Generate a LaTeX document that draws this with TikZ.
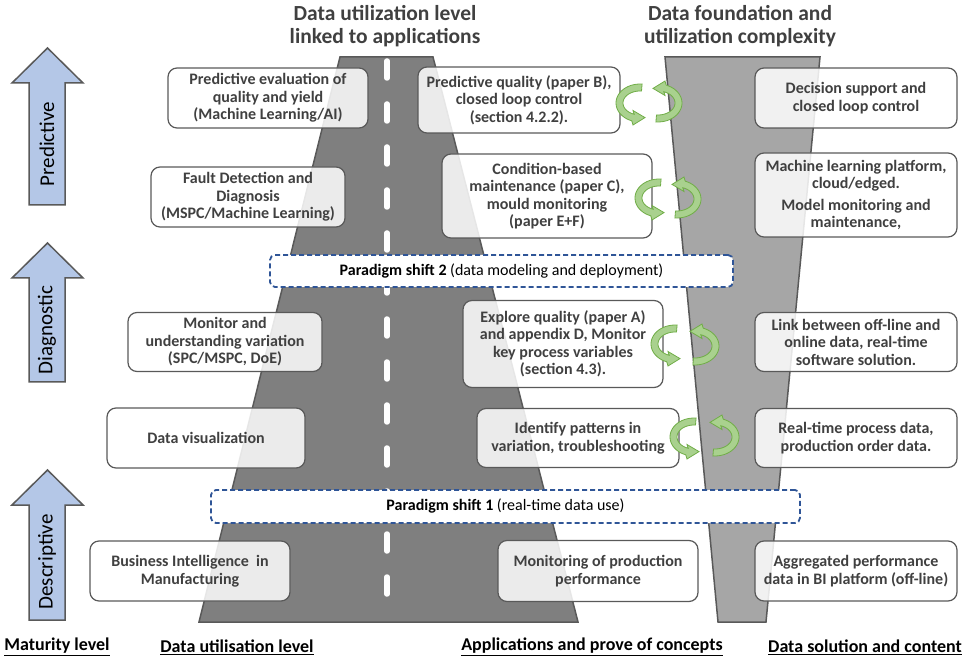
\documentclass[tikz,border=0pt]{standalone}
\usepackage{fontspec}
\setmainfont{Carlito}
\usepackage{tikz}
\definecolor{Edge}{HTML}{595959}
\definecolor{Ink}{HTML}{404040}
\definecolor{RoadDark}{HTML}{7F7F7F}
\definecolor{RoadLight}{HTML}{A6A6A6}
\definecolor{Shift}{HTML}{2F5597}
\definecolor{Level}{HTML}{B4C7E7}
\definecolor{SwirlFill}{HTML}{A9D18E}
\definecolor{SwirlLine}{HTML}{70AD47}
\tikzset{
  swirl/.pic={
    \fill[draw=SwirlLine,fill=SwirlFill,line width=0.8pt]
      plot[domain=275:110,samples=25] ({24*cos(\x)},{19*sin(\x)})
      -- (-7,22) -- (5,14.6) -- (-7,7.5)
      -- plot[domain=110:275,samples=25] ({17*cos(\x)},{12*sin(\x)})
      -- cycle;
  }
}

\begin{document}
\begin{tikzpicture}[x=1pt,y=-1pt,
    box/.style={draw=Edge,line width=1.2pt,fill=white,fill opacity=0.85,text opacity=1,
      rounded corners=9pt,align=center,text=Ink,inner sep=2pt,
      font=\bfseries\fontsize{16}{17.5}\selectfont},
    shiftbox/.style={draw=Shift,line width=1.8pt,dash pattern=on 5pt off 3pt,fill=white,
      rounded corners=5pt,font=\fontsize{16}{19}\selectfont},
    level/.style={draw=Edge,line width=1.5pt,fill=Level,line join=miter},
    levtext/.style={rotate=90,font=\fontsize{21}{24}\selectfont},
    head/.style={align=center,text=Ink,font=\bfseries\fontsize{21.5}{23.5}\selectfont},
    foot/.style={font=\bfseries\fontsize{18}{21}\selectfont}]
  \useasboundingbox (0,0) rectangle (970,660);

  % roads
  \draw[fill=RoadDark,draw=Edge,line width=1.5pt] (340,57) -- (433,57) -- (578,622) -- (199,622) -- cycle;
  \draw[fill=RoadLight,draw=Edge,line width=1.5pt] (665,57) -- (820,57) -- (766,622) -- (718,622) -- cycle;
  \draw[white,line width=5.5pt,line cap=round,dash pattern=on 17pt off 26pt] (387,61) -- (387,619);

  % maturity levels
  \draw[level] (47.5,48) -- (83,83) -- (65,83) -- (65,205) -- (29,205) -- (29,83) -- (12,83) -- cycle;
  \draw[level] (47.5,243) -- (83,278) -- (65,278) -- (65,382) -- (29,382) -- (29,278) -- (12,278) -- cycle;
  \draw[level] (47.5,470) -- (83,505) -- (65,505) -- (65,620) -- (29,620) -- (29,505) -- (12,505) -- cycle;
  \node[levtext] (pred) at (47,144) {Predictive};
  \node[levtext] (diag) at (47,330) {Diagnostic};
  \node[levtext] (desc) at (47,562) {Descriptive};

  % headers
  \node[head] (hutil) at (385,26) {Data utilization level\\linked to applications};
  \node[head] (hfound) at (740,26) {Data foundation and\\utilization complexity};

  % data utilisation level
  \node[box,minimum width=200pt,minimum height=60pt] (predeval) at (268,98)
    {Predictive evaluation of\\quality and yield\\(Machine Learning/AI)};
  \node[box,minimum width=194pt,minimum height=60pt] (fdd) at (248,197)
    {Fault Detection and\\Diagnosis\\(MSPC/Machine Learning)};
  \node[box,minimum width=194pt,minimum height=59pt] (monvar) at (225,342)
    {Monitor and\\understanding variation\\(SPC/MSPC, DoE)};
  \node[box,minimum width=198pt,minimum height=60pt] (datavis) at (206,438)
    {Data visualization};
  \node[box,minimum width=200pt,minimum height=60pt] (bi) at (190,571)
    {Business Intelligence\ \ in\\Manufacturing};

  % applications
  \node[box,minimum width=202pt,minimum height=66pt] (predq) at (519,100)
    {Predictive quality (paper B),\\closed loop control\\(section 4.2.2).};
  \node[box,minimum width=210pt,minimum height=84pt] (cbm) at (547,196)
    {Condition-based\\maintenance (paper C),\\mould monitoring\\(paper E+F)};
  \node[box,minimum width=200pt,minimum height=87pt] (explq) at (563,344)
    {Explore quality (paper A)\\and appendix D, Monitor\\key process variables\\(section 4.3).};
  \node[box,minimum width=202pt,minimum height=59pt] (ident) at (578,438)
    {Identify patterns in\\variation, troubleshooting};
  \node[box,minimum width=200pt,minimum height=61pt] (monprod) at (598,571)
    {Monitoring of production\\performance};

  % data solution
  \node[box,minimum width=202pt,minimum height=60pt] (decision) at (856,98)
    {Decision support and\\closed loop control};
  \node[box,minimum width=202pt,minimum height=84pt] (mlplat) at (856,195)
    {Machine learning platform,\\cloud/edged.\\[4pt]Model monitoring and\\maintenance,};
  \node[box,minimum width=202pt,minimum height=59pt] (link) at (856,342)
    {Link between off-line and\\online data, real-time\\software solution.};
  \node[box,minimum width=202pt,minimum height=59pt] (rtdata) at (856,438)
    {Real-time process data,\\production order data.};
  \node[box,minimum width=202pt,minimum height=60pt] (aggr) at (856,571)
    {Aggregated performance\\data in BI platform (off-line)};

  % paradigm shifts
  \node[shiftbox,minimum width=463pt,minimum height=32pt] (shift2) at (501.5,271)
    {\textbf{Paradigm shift 2} (data modeling and deployment)};
  \node[shiftbox,minimum width=589pt,minimum height=33pt] (shift1) at (505.5,506.5)
    {\textbf{Paradigm shift 1} (real-time data use)};

  % loops
  \pic at (640,103) {swirl};
  \pic[rotate=180] at (658,103) {swirl};
  \pic at (659,198) {swirl};
  \pic[rotate=180] at (677,199) {swirl};
  \pic at (675,344) {swirl};
  \pic[rotate=180] at (695,346) {swirl};
  \pic at (694,437) {swirl};
  \pic[rotate=180] at (715,437) {swirl};

  % column titles
  \node[foot] (fmat) at (57,647) {\underline{Maturity level}};
  \node[foot] (futil) at (237,647) {\underline{Data utilisation level}};
  \node[foot] (fapp) at (592,647) {\underline{Applications and prove of concepts}};
  \node[foot] (fsol) at (865,647) {\underline{Data solution and content}};
\end{tikzpicture}
\end{document}
